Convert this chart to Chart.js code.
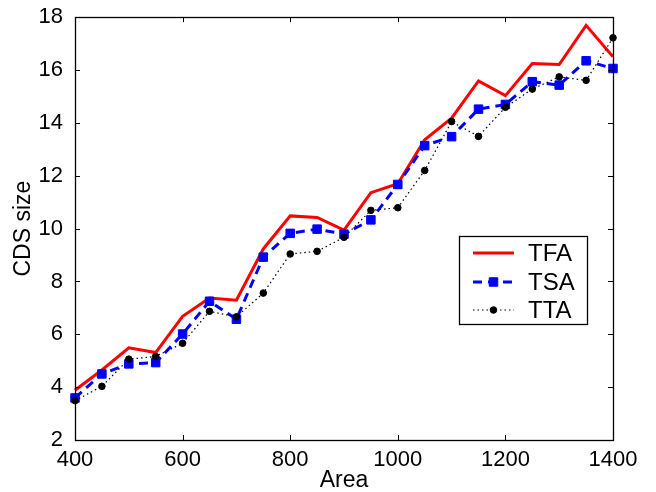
<!DOCTYPE html>
<html>
<head>
<meta charset="utf-8">
<script src="https://cdn.jsdelivr.net/npm/chart.js@4.4.0/dist/chart.umd.min.js"></script>
<style>
  html, body { margin: 0; padding: 0; background: #fff; }
  #wrap { width: 656px; height: 492px; }
</style>
</head>
<body>
<div id="wrap"><canvas id="chart" width="656" height="492"></canvas></div>
<script>
// Area values (x axis)
const areas = [400, 450, 500, 550, 600, 650, 700, 750, 800, 850, 900,
               950, 1000, 1050, 1100, 1150, 1200, 1250, 1300, 1350, 1400];

// CDS size per algorithm
const tfaValues = [3.88, 4.65, 5.49, 5.31, 6.68, 7.37, 7.29, 9.23, 10.48, 10.42, 9.94,
                   11.36, 11.70, 13.36, 14.18, 15.59, 15.03, 16.25, 16.21, 17.69, 16.50];
const tsaValues = [3.59, 4.50, 4.88, 4.93, 6.01, 7.25, 6.57, 8.92, 9.82, 9.98, 9.79,
                   10.33, 11.67, 13.14, 13.48, 14.52, 14.70, 15.56, 15.43, 16.35, 16.06];
const ttaValues = [3.49, 4.03, 5.06, 5.16, 5.66, 6.87, 6.66, 7.56, 9.04, 9.14, 9.67,
                   10.69, 10.79, 12.20, 14.05, 13.49, 14.59, 15.28, 15.74, 15.61, 17.22];

const seriesNames = ['TFA', 'TSA', 'TTA'];
const xTicks = [400, 600, 800, 1000, 1200, 1400];
const yTicks = [2, 4, 6, 8, 10, 12, 14, 16, 18];

const FONT = '"Liberation Sans", Arial, Helvetica, sans-serif';

function toPoints(values) {
    return values.map((v, i) => ({ x: areas[i], y: v }));
}

// Box around the plot with inward tick marks (matlab style)
const frameTicks = {
    id: 'frameTicks',
    afterDatasetsDraw(chart) {
        const { ctx, chartArea: a, scales } = chart;
        ctx.save();
        ctx.strokeStyle = '#000';
        ctx.lineWidth = 1;
        ctx.beginPath();
        xTicks.forEach(t => {
            const px = Math.round(scales.x.getPixelForValue(t)) + 0.5;
            ctx.moveTo(px, a.bottom); ctx.lineTo(px, a.bottom - 5);
            ctx.moveTo(px, a.top); ctx.lineTo(px, a.top + 5);
        });
        yTicks.forEach(t => {
            const py = Math.round(scales.y.getPixelForValue(t)) + 0.5;
            ctx.moveTo(a.left, py); ctx.lineTo(a.left + 5, py);
            ctx.moveTo(a.right, py); ctx.lineTo(a.right - 5, py);
        });
        ctx.stroke();
        ctx.lineWidth = 1.3;
        ctx.strokeRect(Math.round(a.left) + 0.5, Math.round(a.top) + 0.5,
                       Math.round(a.right - a.left), Math.round(a.bottom - a.top));
        ctx.restore();
    }
};

// Legend box inside the plot, using the dataset styles
const boxLegend = {
    id: 'boxLegend',
    afterDraw(chart) {
        const { ctx } = chart;
        const left = 459.5, top = 236.5, w = 128, h = 88;
        ctx.save();
        ctx.fillStyle = '#fff';
        ctx.fillRect(left, top, w, h);
        ctx.strokeStyle = '#000';
        ctx.lineWidth = 1.3;
        ctx.strokeRect(left, top, w, h);
        const rows = [253, 282, 310];
        chart.data.datasets.forEach((ds, i) => {
            const y = rows[i];
            ctx.strokeStyle = ds.borderColor;
            ctx.lineWidth = ds.borderWidth;
            ctx.setLineDash(ds.borderDash || []);
            ctx.beginPath();
            ctx.moveTo(473, y); ctx.lineTo(514, y);
            ctx.stroke();
            ctx.setLineDash([]);
            if (ds.pointRadius > 0) {
                ctx.fillStyle = ds.pointBackgroundColor;
                ctx.strokeStyle = ds.pointBorderColor;
                ctx.lineWidth = ds.pointBorderWidth;
                ctx.beginPath();
                if (ds.pointStyle === 'rect') {
                    const s = ds.pointRadius * Math.SQRT1_2;
                    ctx.rect(493.5 - s, y - s, 2 * s, 2 * s);
                } else {
                    ctx.arc(493.5, y, ds.pointRadius, 0, Math.PI * 2);
                }
                ctx.fill();
                ctx.stroke();
            }
            ctx.fillStyle = '#000';
            ctx.font = '24px ' + FONT;
            ctx.textBaseline = 'middle';
            ctx.textAlign = 'left';
            ctx.fillText(seriesNames[i], 528, y + 1);
        });
        ctx.restore();
    }
};

new Chart(document.getElementById('chart').getContext('2d'), {
    type: 'line',
    data: {
        datasets: [{
            label: seriesNames[0],
            data: toPoints(tfaValues),
            borderColor: '#ff0000',
            borderWidth: 3,
            pointRadius: 0,
            clip: false,
            order: 3
        }, {
            label: seriesNames[1],
            data: toPoints(tsaValues),
            borderColor: '#0000ff',
            borderWidth: 3,
            borderDash: [9, 6],
            pointStyle: 'rect',
            pointRadius: 6,
            pointBorderWidth: 1,
            pointBackgroundColor: '#0000ff',
            pointBorderColor: '#0000ff',
            clip: false,
            order: 2
        }, {
            label: seriesNames[2],
            data: toPoints(ttaValues),
            borderColor: '#000000',
            borderWidth: 1.2,
            borderDash: [1.5, 3],
            pointStyle: 'circle',
            pointRadius: 3.3,
            pointBorderWidth: 1,
            pointBackgroundColor: '#000000',
            pointBorderColor: '#000000',
            clip: false,
            order: 1
        }]
    },
    options: {
        responsive: false,
        animation: false,
        devicePixelRatio: 1,
        layout: { padding: { top: 15, right: 43, left: 0, bottom: 0 } },
        elements: { line: { tension: 0, fill: false } },
        plugins: {
            legend: { display: false },
            tooltip: { enabled: false }
        },
        scales: {
            x: {
                type: 'linear',
                min: 400,
                max: 1400,
                afterBuildTicks: s => { s.ticks = xTicks.map(v => ({ value: v })); },
                afterFit: s => { s.height = 52; },
                grid: { display: false },
                border: { display: false },
                ticks: {
                    color: '#000',
                    font: { family: FONT, size: 22 },
                    padding: -1,
                    maxRotation: 0,
                    autoSkip: false,
                    callback: v => String(v)
                },
                title: {
                    display: true,
                    text: 'Area',
                    color: '#000',
                    font: { family: FONT, size: 23, lineHeight: 1 },
                    padding: { top: 0, bottom: 0 }
                }
            },
            y: {
                min: 2,
                max: 18,
                afterBuildTicks: s => { s.ticks = yTicks.map(v => ({ value: v })); },
                afterFit: s => { s.width = 75; },
                grid: { display: false },
                border: { display: false },
                ticks: {
                    color: '#000',
                    font: { family: FONT, size: 22 },
                    padding: 4,
                    callback: v => String(v)
                },
                title: {
                    display: true,
                    text: 'CDS size',
                    color: '#000',
                    font: { family: FONT, size: 23, lineHeight: 1 },
                    padding: { top: 12, bottom: 0 }
                }
            }
        }
    },
    plugins: [frameTicks, boxLegend]
});
</script>
</body>
</html>
